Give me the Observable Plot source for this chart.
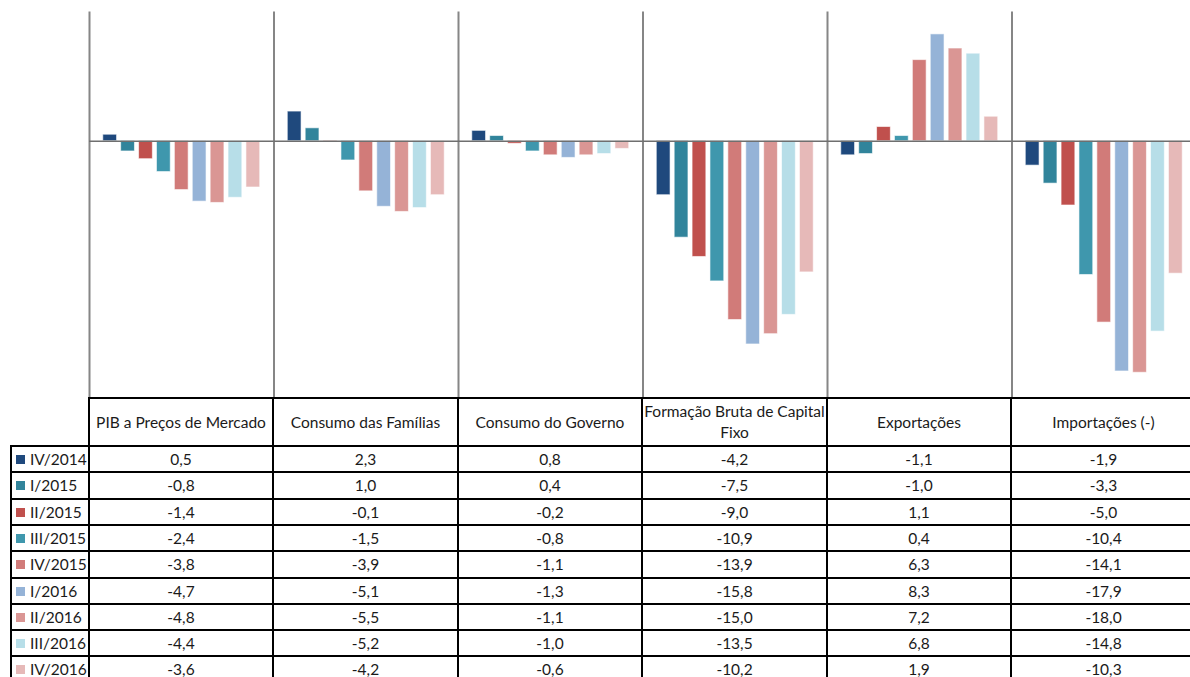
<!DOCTYPE html>
<html>
<head>
<meta charset="utf-8">
<script src="https://cdn.jsdelivr.net/npm/d3@7"></script>
<script src="https://cdn.jsdelivr.net/npm/@observablehq/plot@0.6"></script>
<style>
  html, body { margin: 0; padding: 0; background: #fff; overflow: hidden; }
  #wrap { position: relative; width: 1196px; height: 677px; font-family: Lato, "Open Sans", sans-serif; color: #1a1a1a; }
  #wrap svg { display: block; }
  .cell { position: absolute; box-sizing: border-box; border: 2px solid #000; display: flex; align-items: center; justify-content: center;
          font-size: 15.5px; white-space: pre-line; text-align: center; line-height: 21px; background: transparent; }
  .leg { justify-content: flex-start; padding-left: 4px; }
  .sw { width: 9px; height: 9px; margin-right: 5px; flex: none; }
</style>
</head>
<body>
<div id="wrap"></div>
<script>
// Components of GDP (year-over-year change, %)
const categories = ["PIB a Preços de Mercado", "Consumo das Famílias", "Consumo do Governo",
                    "Formação Bruta de Capital Fixo", "Exportações", "Importações (-)"];
const columnLabels = ["PIB a Preços de Mercado", "Consumo das Famílias", "Consumo do Governo",
                      "Formação Bruta de Capital\nFixo", "Exportações", "Importações (-)"];
const periods = ["IV/2014", "I/2015", "II/2015", "III/2015", "IV/2015", "I/2016", "II/2016", "III/2016", "IV/2016"];
const colors = ["#1f497d", "#31849b", "#c0504d", "#3f97ad", "#d17b79", "#95b3d7", "#da9694", "#b7dee8", "#e6b9b8"];

const pib             = [0.5, -0.8, -1.4, -2.4, -3.8, -4.7, -4.8, -4.4, -3.6];
const consumoFamilias = [2.3, 1.0, -0.1, -1.5, -3.9, -5.1, -5.5, -5.2, -4.2];
const consumoGoverno  = [0.8, 0.4, -0.2, -0.8, -1.1, -1.3, -1.1, -1.0, -0.6];
const fbcf            = [-4.2, -7.5, -9.0, -10.9, -13.9, -15.8, -15.0, -13.5, -10.2];
const exportacoes     = [-1.1, -1.0, 1.1, 0.4, 6.3, 8.3, 7.2, 6.8, 1.9];
const importacoes     = [-1.9, -3.3, -5.0, -10.4, -14.1, -17.9, -18.0, -14.8, -10.3];

const series = [pib, consumoFamilias, consumoGoverno, fbcf, exportacoes, importacoes];
const rows = categories.flatMap((cat, c) => periods.map((p, i) => ({cat, period: p, value: series[c][i]})));

const chart = Plot.plot({
  width: 1196,
  height: 398,
  marginTop: 12,
  marginBottom: 0,
  marginLeft: 89,
  marginRight: 0,
  style: {background: "transparent"},
  fx: {domain: categories, padding: 0, round: false, axis: null},
  x: {domain: periods, axis: null, round: false, paddingInner: 0.23, paddingOuter: 0.77},
  y: {domain: [-20, 10], axis: null},
  color: {domain: periods, range: colors},
  marks: [
    Plot.frame({anchor: "left", stroke: "#868686", strokeWidth: 2}),
    Plot.barY(rows, {fx: "cat", x: "period", y: "value", fill: "period",
                     stroke: "#ffffff", strokeOpacity: 0.6, strokeWidth: 1}),
    Plot.ruleY([0], {stroke: "#6f6f6f", strokeWidth: 1.5})
  ]
});

const wrap = document.getElementById("wrap");
wrap.appendChild(chart);

// Data table under the chart, columns aligned on the facet scale
const fxs = chart.scale("fx");
const n = categories.length;
const step = fxs.step || (fxs.range[1] - fxs.range[0]) / n;
const colX = c => Math.floor(fxs.apply ? fxs.apply(c) : fxs.range[0] + categories.indexOf(c) * step);
const colW = c => Math.floor((fxs.apply ? fxs.apply(c) : fxs.range[0] + categories.indexOf(c) * step) + step) - colX(c);

const fmt = v => v.toFixed(1).replace(".", ",");
const headerTop = 398, headerBottom = 446, rowH = 26.3, legLeft = 11;
const tbl = d3.select(wrap);

function cell(x, y, w, h, cls) {
  return tbl.append("div").attr("class", "cell " + (cls || ""))
    .style("left", (x - 1) + "px").style("top", (y - 1) + "px")
    .style("width", (w + 2) + "px").style("height", (h + 2) + "px");
}

categories.forEach((c, j) => {
  cell(colX(c), headerTop, colW(c), headerBottom - headerTop).text(columnLabels[j]);
});

periods.forEach((p, i) => {
  const y = Math.round(headerBottom + i * rowH);
  const h = Math.round(headerBottom + (i + 1) * rowH) - y;
  const lg = cell(legLeft, y, colX(categories[0]) - legLeft, h, "leg");
  lg.append("span").attr("class", "sw").style("background", colors[i]);
  lg.append("span").text(p);
  categories.forEach((c, j) => {
    cell(colX(c), y, colW(c), h).text(fmt(series[j][i]));
  });
});
</script>
</body>
</html>
